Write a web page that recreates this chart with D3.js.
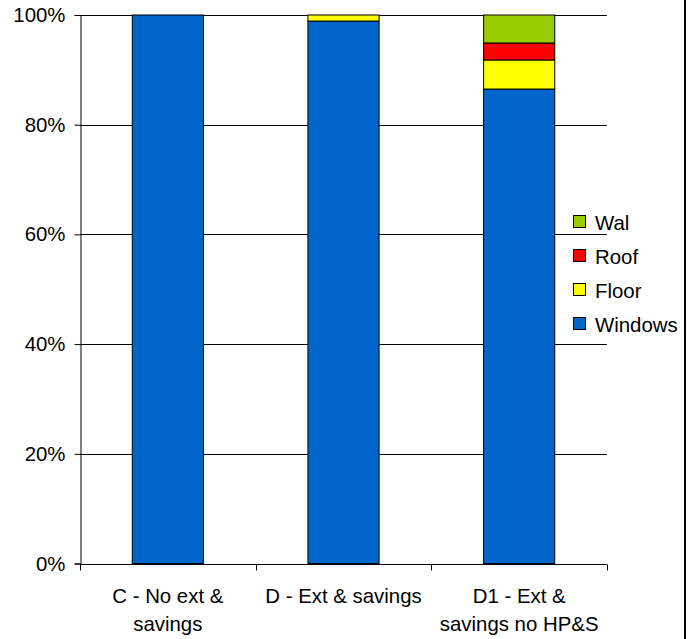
<!DOCTYPE html>
<html>
<head>
<meta charset="utf-8">
<script src="https://cdn.jsdelivr.net/npm/d3@7"></script>
<style>
  html, body { margin: 0; padding: 0; background: #fff; }
  svg { display: block; }
  text { font-family: "Liberation Sans", Arial, sans-serif; fill: #000; }
</style>
</head>
<body>
<svg id="chart" width="693" height="639"></svg>
<script>
// Scenario categories (each label split over lines)
const categories = ["C - No ext & savings", "D - Ext & savings", "D1 - Ext & savings no HP&S"];
const categoryLines = [["C - No ext &", "savings"], ["D - Ext & savings"], ["D1 - Ext &", "savings no HP&S"]];

// Share of each element, percent (stack order bottom to top)
const seriesNames = ["Windows", "Floor", "Roof", "Wal"];
const windows = [100, 98.9, 86.5];
const floor   = [0, 1.1, 5.3];
const roof    = [0, 0, 3.1];
const wal     = [0, 0, 5.1];
const seriesColors = ["#0066cc", "#ffff00", "#ff0000", "#99cc00"];

const yTicks = [0, 0.2, 0.4, 0.6, 0.8, 1];

const rows = categories.map((c, i) => ({
  category: c,
  Windows: windows[i], Floor: floor[i], Roof: roof[i], Wal: wal[i]
}));

const FONT = "20.4px";
const svg = d3.select("#chart");
const margin = { left: 80, right: 86, top: 15, bottom: 75.5 };
const W = 693, H = 639;

const x = d3.scaleBand()
  .domain(categories)
  .range([margin.left, W - margin.right])
  .paddingInner(0).paddingOuter(0);

const y = d3.scaleLinear()
  .domain([0, 100])
  .range([H - margin.bottom, margin.top]);

// Horizontal gridlines
svg.append("g")
  .selectAll("line")
  .data(yTicks.filter(t => t > 0))
  .join("line")
  .attr("x1", margin.left).attr("x2", W - margin.right)
  .attr("y1", d => Math.round(y(d * 100)) + 0.5)
  .attr("y2", d => Math.round(y(d * 100)) + 0.5)
  .attr("stroke", "#000").attr("stroke-width", 1);

// Stacked bars
const stack = d3.stack().keys(seriesNames)(rows);
const barW = x.bandwidth() * 0.405;

svg.append("g")
  .selectAll("g")
  .data(stack)
  .join("g")
  .attr("fill", (d, i) => seriesColors[i])
  .selectAll("rect")
  .data(d => d.filter(p => p[1] - p[0] > 0))
  .join("rect")
  .attr("x", d => x(d.data.category) + x.bandwidth() / 2 - barW / 2)
  .attr("width", barW)
  .attr("y", d => y(d[1]))
  .attr("height", d => y(d[0]) - y(d[1]))
  .attr("stroke", "#000").attr("stroke-width", 1);

// Y axis
const yAxis = d3.axisLeft(y)
  .tickValues(yTicks.map(t => t * 100))
  .tickFormat(d => d + "%")
  .tickSize(6).tickPadding(9);
const ya = svg.append("g")
  .attr("transform", `translate(${margin.left + 0.5},0)`)
  .call(yAxis);
ya.select(".domain").attr("stroke", "#000");
ya.selectAll(".tick line").attr("stroke", "#000");
ya.selectAll(".tick text").style("font-size", FONT).attr("fill", "#000");

// X axis line with category boundary ticks
const xBase = Math.round(y(0)) + 0.5;
svg.append("line")
  .attr("x1", margin.left).attr("x2", W - margin.right)
  .attr("y1", xBase).attr("y2", xBase)
  .attr("stroke", "#000");
const bounds = categories.map(c => x(c) + x.bandwidth()).concat([x(categories[0])]);
svg.append("g").selectAll("line")
  .data(bounds)
  .join("line")
  .attr("x1", d => Math.round(d) + 0.5).attr("x2", d => Math.round(d) + 0.5)
  .attr("y1", xBase).attr("y2", xBase + 6)
  .attr("stroke", "#000");

// Category labels
const labels = svg.append("g");
categories.forEach((c, i) => {
  const t = labels.append("text")
    .attr("x", x(c) + x.bandwidth() / 2)
    .attr("y", 603)
    .attr("text-anchor", "middle")
    .style("font-size", FONT);
  categoryLines[i].forEach((line, j) => {
    t.append("tspan")
      .attr("x", x(c) + x.bandwidth() / 2)
      .attr("dy", j === 0 ? 0 : 28)
      .text(line);
  });
});

// Legend (top entry is the top of the stack)
const legendItems = seriesNames.map((n, i) => ({ name: n, color: seriesColors[i] })).reverse();
const legend = svg.append("g");
legendItems.forEach((d, i) => {
  const cy = 222 + i * 34;
  legend.append("rect")
    .attr("x", 573.5).attr("y", cy - 6.5)
    .attr("width", 12).attr("height", 12)
    .attr("fill", d.color).attr("stroke", "#000");
  legend.append("text")
    .attr("x", 595).attr("y", cy + 7.5)
    .style("font-size", FONT)
    .text(d.name);
});

// Right frame edge
svg.append("line")
  .attr("x1", 685).attr("x2", 685)
  .attr("y1", 0).attr("y2", H)
  .attr("stroke", "#000").attr("stroke-width", 2);
</script>
</body>
</html>
